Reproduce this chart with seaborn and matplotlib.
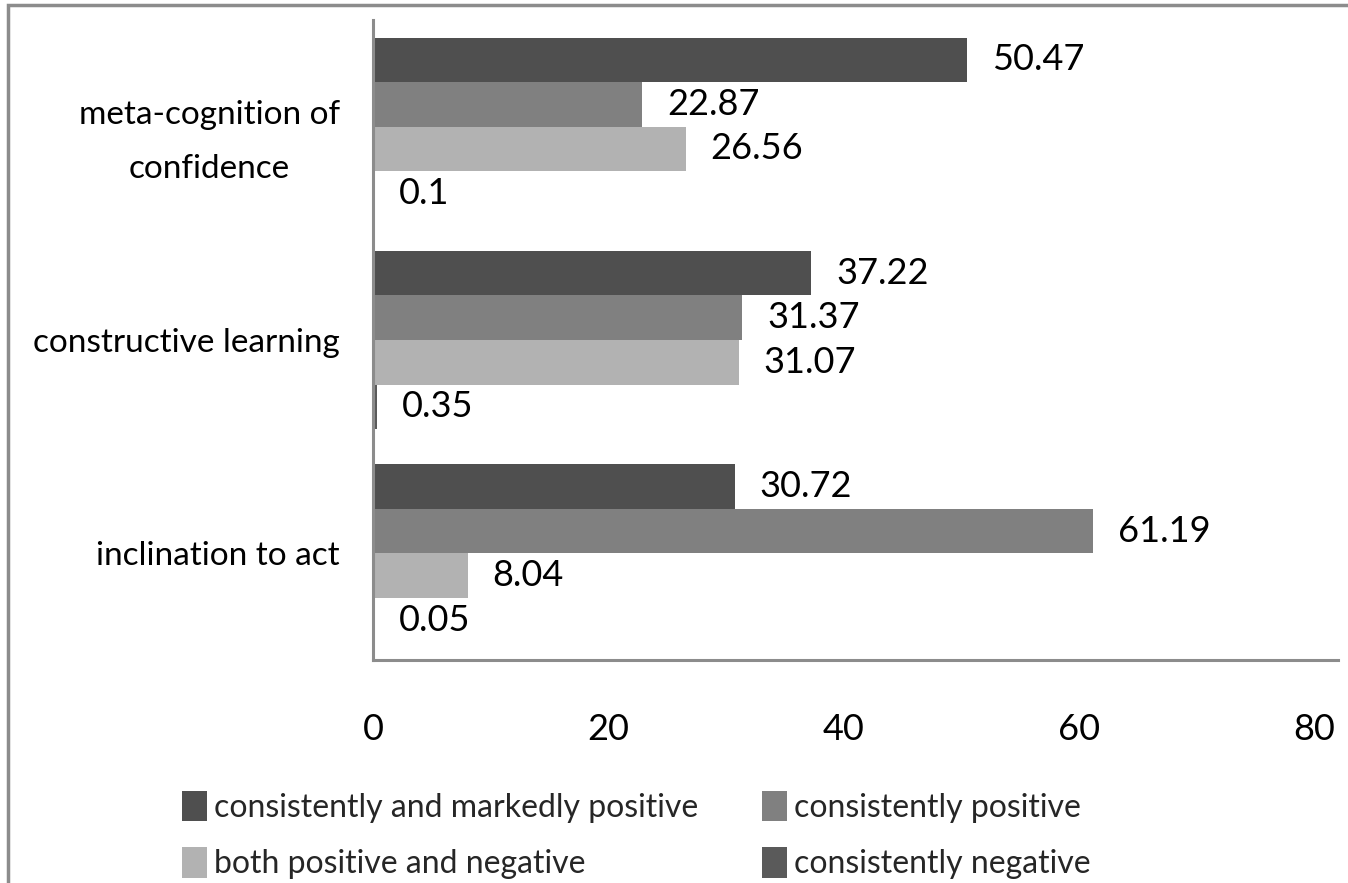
import matplotlib
matplotlib.use("Agg")
import matplotlib.pyplot as plt
from matplotlib.patches import Rectangle, Patch
import seaborn as sns
import pandas as pd

categories = ["meta-cognition of\nconfidence", "constructive learning", "inclination to act"]
series_names = ["consistently and markedly positive", "consistently positive",
                "both positive and negative", "consistently negative"]
markedly_positive = [50.47, 37.22, 30.72]
positive = [22.87, 31.37, 61.19]
mixed = [26.56, 31.07, 8.04]
negative = [0.1, 0.35, 0.05]
x_ticks = [0, 20, 40, 60, 80]

colors = ["#4f4f4f", "#808080", "#b2b2b2", "#5a5a5a"]

rows = []
for name, vals in zip(series_names, [markedly_positive, positive, mixed, negative]):
    for cat, v in zip(categories, vals):
        rows.append({"category": cat, "series": name, "value": v})
df = pd.DataFrame(rows)

sns.set_theme(style="white")
plt.rcParams["font.family"] = ["Lato", "DejaVu Sans"]

fig = plt.figure(figsize=(13.48, 8.83), dpi=100)
ax = fig.add_axes([373 / 1348, 1 - 660 / 883, 965 / 1348, 640 / 883])

sns.barplot(data=df, y="category", x="value", hue="series", order=categories,
            hue_order=series_names, palette=colors, orient="h", width=0.835,
            saturation=1, ax=ax, legend=False)

for container in ax.containers:
    for bar in container:
        bar.set_edgecolor("none")
    ax.bar_label(container, labels=[f"{v:g}" for v in container.datavalues],
                 padding=18, fontsize=26, color="black")

ax.set_xlim(0, 82)
ax.set_xticks(x_ticks)
ax.set_xticklabels([str(t) for t in x_ticks])
ax.set_xlabel("")
ax.set_ylabel("")
ax.tick_params(axis="x", length=0, pad=38, labelsize=26, colors="black")
ax.tick_params(axis="y", length=0, pad=24, labelsize=24, colors="black")
for lbl in ax.get_yticklabels():
    lbl.set_multialignment("center")
    lbl.set_linespacing(2.0)

for side in ["top", "right"]:
    ax.spines[side].set_visible(False)
for side in ["left", "bottom"]:
    ax.spines[side].set_color("#8c8c8c")
    ax.spines[side].set_linewidth(2.2)

# legend entries laid out row by row
order = [0, 2, 1, 3]
handles = [Patch(facecolor=colors[i], edgecolor="none") for i in order]
labels = [series_names[i] for i in order]
fig.legend(handles, labels, loc="upper left",
           bbox_to_anchor=(153 / 1348, 1 - 762 / 883), ncol=2, frameon=False,
           fontsize=23, handlelength=0.8, handleheight=1.1, handletextpad=0.2,
           columnspacing=2.0, labelspacing=0.75)

# outer chart frame
fig.patches.append(Rectangle((8 / 1348, -0.1), 1.2, 1 - 5 / 883 + 0.1,
                             transform=fig.transFigure, fill=False,
                             edgecolor="#8c8c8c", linewidth=2.5))

fig.savefig("out.png", dpi=100, facecolor="white")
